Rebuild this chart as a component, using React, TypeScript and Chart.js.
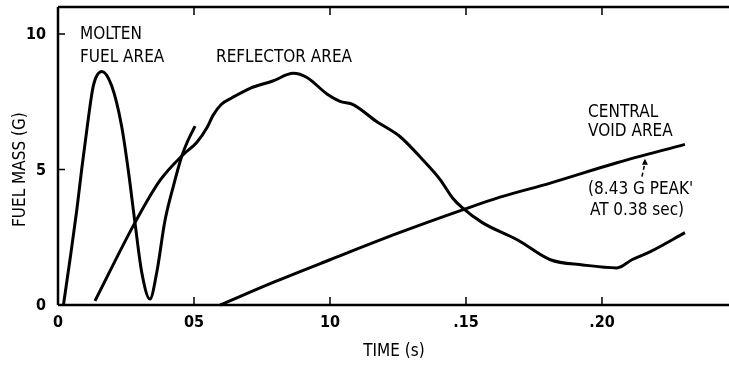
import React, { useEffect, useRef } from "react";
import { Chart, registerables } from "chart.js";

Chart.register(...registerables);

// Time (s) and fuel mass (g)
const moltenTime = [0.002, 0.0044, 0.0069, 0.0087, 0.0111, 0.013, 0.0161, 0.0197, 0.0234, 0.0258, 0.0283, 0.0308, 0.0338, 0.0363, 0.0393, 0.0424, 0.0455, 0.0479, 0.0504];
const moltenMass = [0, 1.67, 3.5, 5.0, 6.85, 8.1, 8.62, 8.1, 6.6, 5.0, 3.04, 1.2, 0.22, 1.2, 3.1, 4.38, 5.49, 6.1, 6.6];

const reflectorTime = [0.0136, 0.0283, 0.0375, 0.046, 0.051, 0.0548, 0.057, 0.06, 0.064, 0.0706, 0.079, 0.0865, 0.0915, 0.099, 0.1037, 0.1085, 0.117, 0.1257, 0.134, 0.1405, 0.145, 0.1485, 0.156, 0.169, 0.181, 0.193, 0.2055, 0.211, 0.2176, 0.2305];
const reflectorMass = [0.15, 3.04, 4.6, 5.55, 6.0, 6.55, 7.0, 7.4, 7.65, 8.0, 8.27, 8.55, 8.4, 7.78, 7.52, 7.4, 6.78, 6.22, 5.37, 4.63, 3.96, 3.6, 3.04, 2.4, 1.67, 1.48, 1.37, 1.67, 1.96, 2.67];

const voidTime = [0.0596, 0.08, 0.1, 0.125, 0.149, 0.1625, 0.181, 0.2055, 0.2305];
const voidMass = [0, 0.87, 1.67, 2.65, 3.52, 3.98, 4.5, 5.25, 5.93];

const xTickValues = [0, 0.05, 0.1, 0.15, 0.2];
const xTickLabels = ["0", "05", "10", ".15", ".20"];
const yTickValues = [0, 5, 10];
const yTickLabels = ["0", "5", "10"];

// Annotation text, anchored in data units (time, mass)
const noteTexts = ["MOLTEN", "FUEL AREA", "REFLECTOR AREA", "CENTRAL", "VOID AREA", "(8.43 G PEAK'", "AT 0.38 sec)"];
const noteTime = [0.0081, 0.0081, 0.0581, 0.1949, 0.1949, 0.1949, 0.1956];
const noteMass = [10.0, 9.15, 9.15, 7.11, 6.41, 4.26, 3.48];

const arrowTime = 0.2158;
const arrowFrom = 4.74;
const arrowTo = 5.4;

const xTitle = "TIME (s)";
const yTitle = "FUEL MASS (G)";

const FONT = '"Liberation Sans Narrow", "DejaVu Sans Condensed", "Liberation Sans", sans-serif';

const toPoints = (t: number[], v: number[]) => t.map((tt, i) => ({ x: tt, y: v[i] }));

const overlay = {
  id: "overlay",
  afterDatasetsDraw(chart: any) {
    const { ctx, chartArea: a, scales } = chart;
    const x = scales.x;
    const y = scales.y;
    ctx.save();
    ctx.strokeStyle = "#000";
    ctx.fillStyle = "#000";
    ctx.lineCap = "butt";
    // frame: left, top, bottom
    ctx.lineWidth = 2.5;
    ctx.beginPath();
    ctx.moveTo(a.left, a.top);
    ctx.lineTo(a.right, a.top);
    ctx.moveTo(a.left, a.top);
    ctx.lineTo(a.left, a.bottom);
    ctx.moveTo(a.left, a.bottom);
    ctx.lineTo(a.right, a.bottom);
    ctx.stroke();
    // ticks
    ctx.lineWidth = 1.5;
    ctx.beginPath();
    xTickValues.forEach((v) => {
      if (v === 0) return;
      const px = x.getPixelForValue(v);
      ctx.moveTo(px, a.bottom);
      ctx.lineTo(px, a.bottom - 8);
      ctx.moveTo(px, a.top);
      ctx.lineTo(px, a.top + 8);
    });
    yTickValues.forEach((v) => {
      if (v === 0) return;
      const py = y.getPixelForValue(v);
      ctx.moveTo(a.left, py);
      ctx.lineTo(a.left + 7, py);
    });
    ctx.stroke();
    // tick labels
    ctx.font = `bold 16px ${FONT}`;
    ctx.textBaseline = "middle";
    ctx.textAlign = "center";
    xTickValues.forEach((v, i) => {
      ctx.fillText(xTickLabels[i], x.getPixelForValue(v), a.bottom + 18);
    });
    ctx.textAlign = "right";
    yTickValues.forEach((v, i) => {
      ctx.fillText(yTickLabels[i], a.left - 12, y.getPixelForValue(v) + 1);
    });
    // titles
    ctx.font = `17px ${FONT}`;
    ctx.textAlign = "center";
    ctx.fillText(xTitle, 394, a.bottom + 47);
    ctx.save();
    ctx.translate(21, (y.getPixelForValue(0) + y.getPixelForValue(10)) / 2);
    ctx.rotate(-Math.PI / 2);
    ctx.fillText(yTitle, 0, 0);
    ctx.restore();
    // notes
    ctx.font = `17px ${FONT}`;
    ctx.textAlign = "left";
    noteTexts.forEach((t, i) => {
      ctx.fillText(t, x.getPixelForValue(noteTime[i]), y.getPixelForValue(noteMass[i]));
    });
    // arrow
    const ax = x.getPixelForValue(arrowTime);
    const y1 = y.getPixelForValue(arrowFrom);
    const y2 = y.getPixelForValue(arrowTo);
    ctx.lineWidth = 1.5;
    ctx.setLineDash([4, 3]);
    ctx.beginPath();
    ctx.moveTo(ax - 3, y1);
    ctx.lineTo(ax, y2 + 4);
    ctx.stroke();
    ctx.setLineDash([]);
    ctx.beginPath();
    ctx.moveTo(ax, y2);
    ctx.lineTo(ax - 3, y2 + 6);
    ctx.lineTo(ax + 3, y2 + 6);
    ctx.closePath();
    ctx.fill();
    ctx.restore();
  },
};

export default function App() {
  const ref = useRef<HTMLCanvasElement | null>(null);
  useEffect(() => {
    if (!ref.current) return;
    const common = {
      borderColor: "#000",
      borderWidth: 3,
      pointRadius: 0,
      cubicInterpolationMode: "monotone" as const,
      fill: false,
      clip: false as any,
    };
    const chart = new Chart(ref.current, {
      type: "line",
      data: {
        datasets: [
          { label: "Molten fuel area", data: toPoints(moltenTime, moltenMass), ...common },
          { label: "Reflector area", data: toPoints(reflectorTime, reflectorMass), ...common },
          { label: "Central void area", data: toPoints(voidTime, voidMass), ...common },
        ],
      },
      options: {
        animation: false,
        responsive: false,
        maintainAspectRatio: false,
        devicePixelRatio: 1,
        layout: { padding: { left: 58, top: 7, right: 0, bottom: 60 } },
        plugins: { legend: { display: false }, tooltip: { enabled: false } },
        scales: {
          x: { type: "linear", min: 0, max: 0.2467, display: false },
          y: { type: "linear", min: 0, max: 11, display: false },
        },
      },
      plugins: [overlay],
    });
    return () => chart.destroy();
  }, []);
  return (
    <div style={{ position: "fixed", left: 0, top: 0, width: 729, height: 365, background: "#fff" }}>
      <canvas ref={ref} width={729} height={365} style={{ display: "block", width: 729, height: 365 }} />
    </div>
  );
}
